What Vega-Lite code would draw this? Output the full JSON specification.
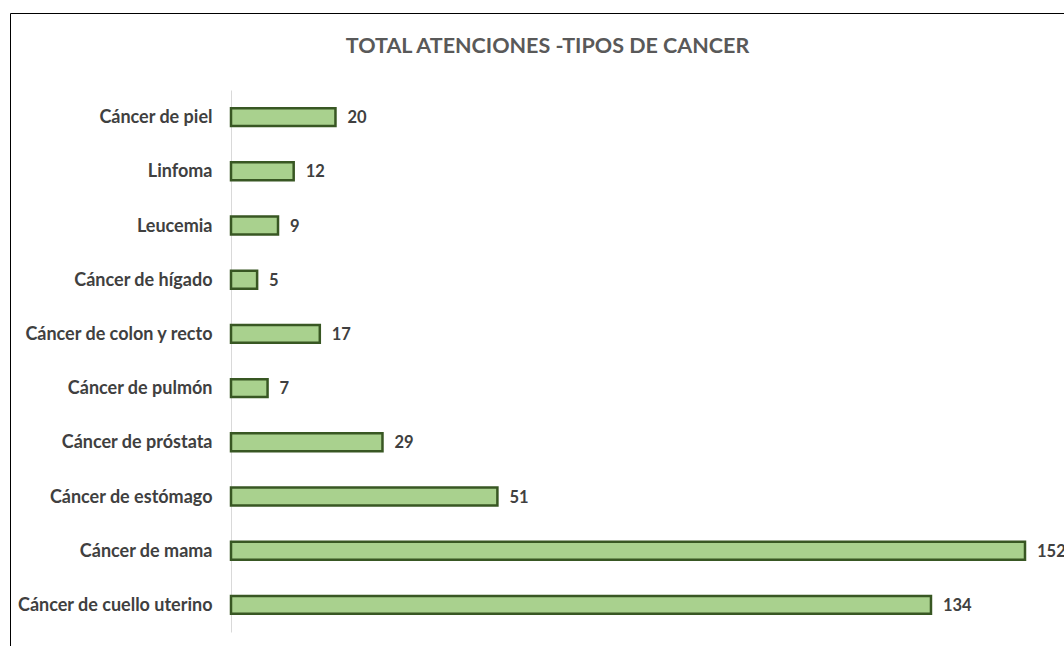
{
  "$schema": "https://vega.github.io/schema/vega-lite/v6.json",
  "autosize": "none",
  "width": 1075,
  "height": 650,
  "padding": {"left": 10, "top": 13, "right": 0, "bottom": 0},
  "background": "white",
  "config": {
    "view": {"stroke": "#000000", "strokeWidth": 1},
    "font": "Lato"
  },
  "title": {
    "text": "TOTAL ATENCIONES -TIPOS DE CANCER",
    "anchor": "middle",
    "offset": -44,
    "font": "Lato",
    "fontSize": 21.5,
    "fontWeight": "bold",
    "color": "#595959"
  },
  "data": {
    "values": [
      {"tipo": "Cáncer de piel", "total": 20},
      {"tipo": "Linfoma", "total": 12},
      {"tipo": "Leucemia", "total": 9},
      {"tipo": "Cáncer de hígado", "total": 5},
      {"tipo": "Cáncer de colon y recto", "total": 17},
      {"tipo": "Cáncer de pulmón", "total": 7},
      {"tipo": "Cáncer de próstata", "total": 29},
      {"tipo": "Cáncer de estómago", "total": 51},
      {"tipo": "Cáncer de mama", "total": 152},
      {"tipo": "Cáncer de cuello uterino", "total": 134}
    ]
  },
  "encoding": {
    "y": {
      "field": "tipo",
      "type": "nominal",
      "sort": null,
      "scale": {"range": [77, 619], "paddingInner": 0.67, "paddingOuter": 0.335},
      "axis": {
        "title": null,
        "offset": -221,
        "ticks": false,
        "domainColor": "#d9d9d9",
        "domainWidth": 1,
        "labelPadding": 19,
        "labelLimit": 400,
        "labelOffset": 1,
        "labelFont": "Lato",
        "labelFontSize": 18,
        "labelFontWeight": "bold",
        "labelColor": "#404040"
      }
    },
    "x": {
      "field": "total",
      "type": "quantitative",
      "scale": {"domain": [0, 152], "range": [221, 1015], "nice": false, "zero": true},
      "axis": null
    }
  },
  "layer": [
    {
      "mark": {"type": "bar", "fill": "#a9d18e", "stroke": "#385723", "strokeWidth": 2.5}
    },
    {
      "mark": {"type": "text", "align": "left", "baseline": "middle", "dx": 12, "dy": 1, "font": "Lato", "fontSize": 16.5, "fontWeight": "bold", "color": "#404040"},
      "encoding": {"text": {"field": "total", "type": "quantitative"}}
    }
  ]
}
